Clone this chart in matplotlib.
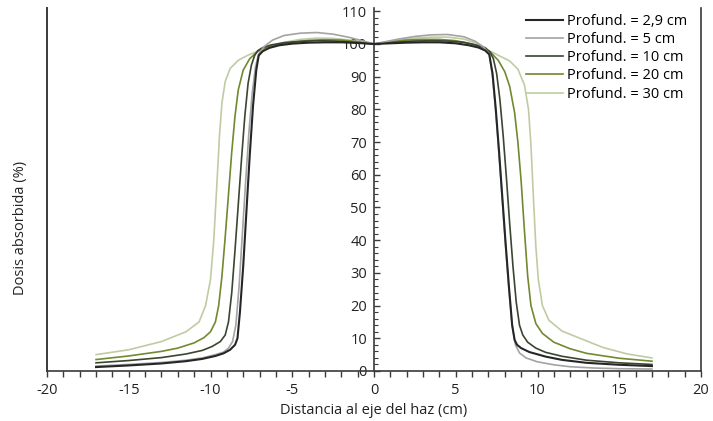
import numpy as np
import matplotlib.pyplot as plt
from matplotlib.ticker import MultipleLocator

plt.rcParams['font.family'] = ['Open Sans', 'DejaVu Sans']

# perfiles de dosis (distancia en cm, dosis en %)
x29 = [-17, -15, -13, -11.5, -10.5, -9.7, -9.2, -8.8, -8.5, -8.35, -8.2, -8.0, -7.8, -7.6, -7.4, -7.2, -7.05,
       -6.8, -6.4, -5.8, -5.0, -4.0, -3.0, -2.0, -1.0, 0.0, 1.0, 2.0, 3.0, 4.0, 5.0, 5.8, 6.4, 6.8, 7.05, 7.25,
       7.45, 7.65, 7.85, 8.05, 8.25, 8.45, 8.6, 8.75, 9.0, 9.5, 10.5, 11.5, 13, 15, 17]
y29 = [1.2, 1.7, 2.3, 3.0, 3.7, 4.6, 5.4, 6.5, 8.0, 10, 18, 32, 49, 66, 81, 92, 96.5,
       97.8, 98.8, 99.6, 100.1, 100.4, 100.5, 100.5, 100.3, 100.0, 100.2, 100.4, 100.5, 100.5, 100.2, 99.6, 98.9, 98.0, 96.8, 91,
       80, 67, 53, 39, 26, 14, 9.5, 8, 7, 5.8, 4.4, 3.4, 2.5, 1.9, 1.5]

x5 = [-17, -15, -13, -11.5, -10.5, -9.7, -9.2, -8.9, -8.65, -8.45, -8.25, -8.05, -7.85, -7.65, -7.45, -7.25, -7.05,
      -6.7, -6.2, -5.5, -4.5, -3.5, -2.5, -1.5, -0.5, 0.0, 0.5, 1.5, 2.5, 3.5, 4.5, 5.5, 6.2, 6.7, 7.05, 7.25,
      7.45, 7.65, 7.85, 8.05, 8.25, 8.45, 8.65, 8.9, 9.3, 10, 11, 12, 13.5, 15, 17]
y5 = [1.5, 2.0, 2.6, 3.3, 4.0, 5.0, 5.8, 7.0, 9, 14, 26, 42, 58, 73, 85, 93, 97,
      99.3, 101.2, 102.6, 103.3, 103.5, 103.0, 102, 100.7, 100.0, 100.5, 101.5, 102.3, 102.8, 102.9, 102.2, 100.8, 99.0, 97.0, 90,
      79, 66, 52, 38, 25, 14, 8, 5.5, 4, 2.8, 1.9, 1.3, 0.9, 0.7, 0.6]

x10 = [-17, -15, -13, -11.5, -10.5, -9.9, -9.4, -9.1, -8.9, -8.7, -8.5, -8.3, -8.1, -7.9, -7.7, -7.5, -7.3, -7.1,
       -6.8, -6.3, -5.5, -4.5, -3.5, -2.5, -1.5, -0.5, 0, 0.5, 1.5, 2.5, 3.5, 4.5, 5.5, 6.3, 6.8, 7.1, 7.3, 7.5,
       7.7, 7.9, 8.1, 8.3, 8.5, 8.7, 8.9, 9.1, 9.4, 9.9, 10.5, 11.5, 13, 15, 17]
y10 = [2.5, 3.2, 4.1, 5.2, 6.3, 7.5, 9.0, 11, 15, 24, 37, 51, 65, 78, 88, 93.5, 96.5, 98,
       98.9, 99.7, 100.4, 100.8, 101, 100.9, 100.6, 100.2, 100, 100.2, 100.6, 100.9, 101, 100.9, 100.5, 99.6, 98.8, 97.5, 95.5, 91,
       83, 72, 59, 45, 32, 21, 14, 11, 8.8, 7, 5.7, 4.5, 3.3, 2.5, 2.0]

x20 = [-17, -15, -13, -12, -11, -10.4, -10.0, -9.7, -9.5, -9.3, -9.1, -8.9, -8.7, -8.5, -8.3, -8.0, -7.6, -7.1,
       -6.6, -6.0, -5.0, -4.0, -3.0, -2.0, -1.0, 0, 1.0, 2.0, 3.0, 4.0, 5.0, 6.0, 6.6, 7.1, 7.6, 8.0, 8.3, 8.6,
       8.8, 9.0, 9.2, 9.4, 9.6, 9.9, 10.3, 11, 12, 13, 15, 17]
y20 = [3.5, 4.6, 6.0, 7.0, 8.6, 10.2, 12, 15, 20, 29, 41, 54, 67, 78, 86, 92, 95.5, 97.8,
       98.9, 99.7, 100.5, 101.1, 101.3, 101.2, 100.7, 100, 100.7, 101.2, 101.4, 101.4, 101.0, 100.0, 99.0, 97.6, 95.0, 91.5, 87, 79,
       70, 58, 43, 29, 20, 14.5, 11.5, 8.8, 6.8, 5.4, 3.9, 3.0]

x30 = [-17, -15, -13, -11.5, -10.7, -10.3, -10.0, -9.8, -9.6, -9.45, -9.3, -9.1, -8.8, -8.3, -7.7, -7.1,
       -6.5, -5.5, -4.5, -3.5, -2.5, -1.5, -0.5, 0, 0.5, 1.5, 2.5, 3.5, 4.5, 5.5, 6.5, 7.1, 7.7, 8.3, 8.8,
       9.2, 9.45, 9.6, 9.75, 9.9, 10.05, 10.3, 10.7, 11.5, 12.6, 14, 15.5, 17]
y30 = [5.0, 6.5, 9.0, 12, 15, 20, 28, 40, 58, 72, 82, 88.5, 92.5, 95, 96.6, 97.8,
       99.0, 100.5, 101.4, 101.8, 101.7, 101.2, 100.4, 100, 100.4, 101.2, 101.8, 102.1, 102.1, 101.5, 99.8, 97.8, 96.3, 94.8, 92.3,
       87.5, 80, 69, 53, 38, 28, 20, 15.5, 12.2, 10, 7.2, 5.2, 4.0]

labels = ['Profund. = 2,9 cm', 'Profund. = 5 cm', 'Profund. = 10 cm', 'Profund. = 20 cm', 'Profund. = 30 cm']
colors = ['#262626', '#a3a3a3', '#3a4630', '#71892f', '#bfcca3']
series = [(x29, y29), (x5, y5), (x10, y10), (x20, y20), (x30, y30)]

fig = plt.figure(figsize=(7.13, 4.21), dpi=100)
ax = fig.add_axes([47 / 713, 50 / 421, 654 / 713, 363 / 421])

handles = [None] * 5
for i in range(4, -1, -1):
    xs, ys = series[i]
    lw = 1.5 if i == 0 else 1.2
    handles[i], = ax.plot(xs, ys, color=colors[i], lw=lw, label=labels[i], zorder=3 + (4 - i))

ax.set_xlim(-20, 20)
ax.set_ylim(0, 111)

# eje vertical en x = 0
ax.spines['left'].set_position(('data', 0))
ax.spines['top'].set_visible(False)
for s in ['left', 'right', 'bottom']:
    ax.spines[s].set_color('#3a3a3a')
    ax.spines[s].set_linewidth(1.2)
ax.plot([0, 0], [0, 1], transform=ax.transAxes, color='#3a3a3a', lw=1.4, clip_on=False)
ax.tick_params(right=False)

ax.xaxis.set_major_locator(MultipleLocator(5))
ax.xaxis.set_minor_locator(MultipleLocator(1))
ax.yaxis.set_minor_locator(MultipleLocator(2))
ax.set_yticks(np.arange(0, 111, 10))
ax.tick_params(axis='x', which='both', direction='out', length=4, width=1, color='#3a3a3a',
               labelsize=10.5, pad=4.5, labelcolor='#222222')
ax.tick_params(axis='y', which='major', direction='in', length=4, width=1, color='#3a3a3a',
               labelsize=10.5, pad=5, labelcolor='#222222')
ax.tick_params(axis='y', which='minor', direction='in', length=3, width=0.8, color='#3a3a3a')
ax.set_xticklabels([str(int(v)) for v in ax.get_xticks()])

ax.set_xlabel('Distancia al eje del haz (cm)', fontsize=10.5, labelpad=3.5, color='#222222')
fig.text(21 / 713, 1 - 228 / 421, 'Dosis absorbida (%)', rotation=90, fontsize=10.5,
         ha='center', va='center', color='#222222')

ax.legend(handles=handles, loc='upper right', bbox_to_anchor=(0.988, 1.0), frameon=False,
          fontsize=10.5, handlelength=2.5, handletextpad=0.3, labelspacing=0.22, borderaxespad=0)

fig.savefig('out.png', dpi=100)
